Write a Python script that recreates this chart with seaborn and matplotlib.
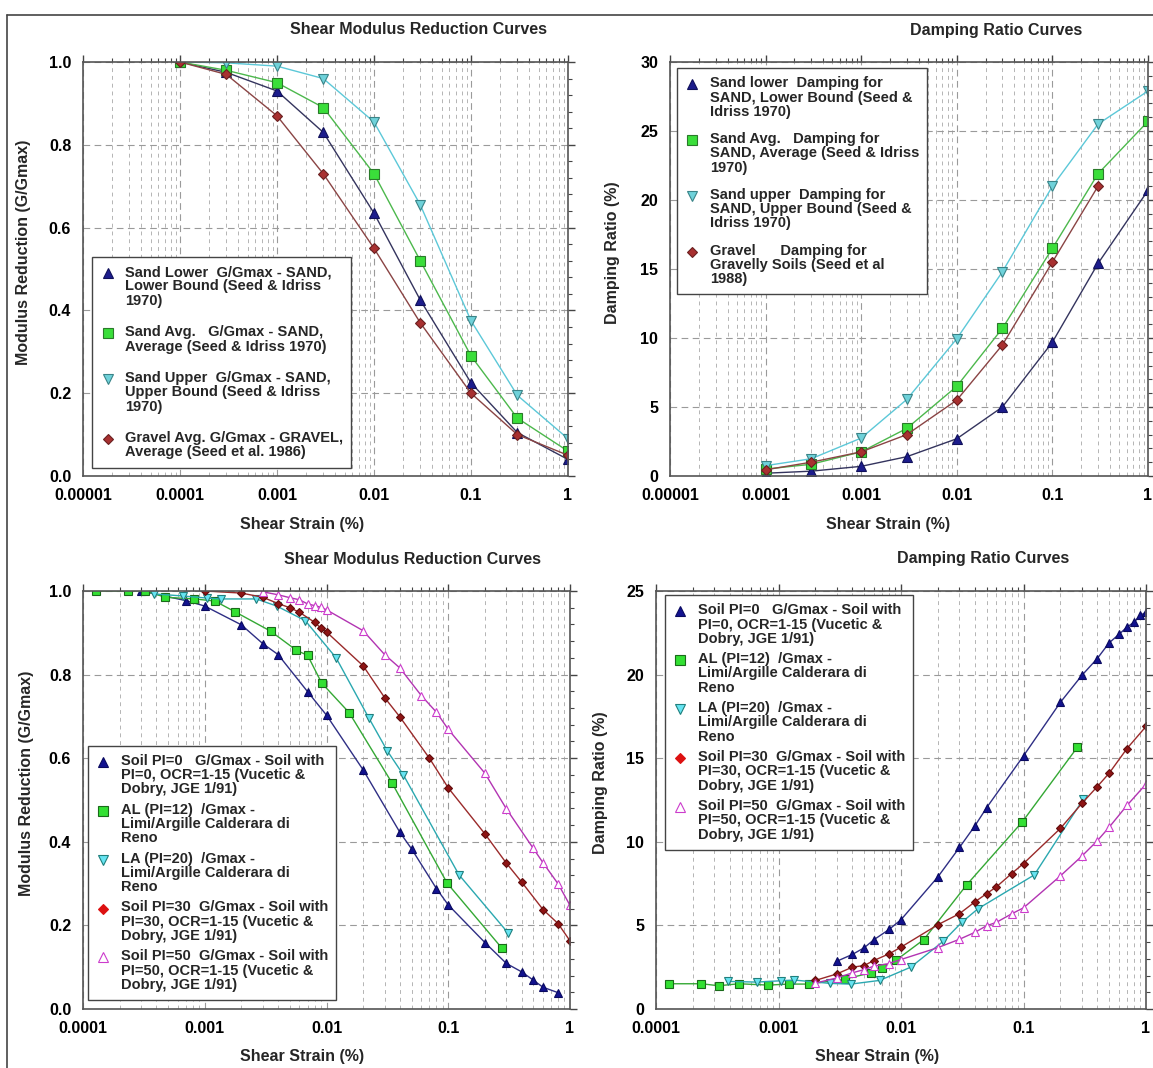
import seaborn as sns
import matplotlib.pyplot as plt
from matplotlib.lines import Line2D
from matplotlib.legend_handler import HandlerLine2D
from matplotlib.ticker import FixedLocator, FixedFormatter, MultipleLocator, LogLocator, NullFormatter, FormatStrFormatter

# ---- top row: Seed & Idriss sand / Seed et al. gravel ----
strain_top = [0.0001, 0.0003, 0.001, 0.003, 0.01, 0.03, 0.1, 0.3, 1.0]
gg_sand_lower = [1.0, 0.975, 0.93, 0.83, 0.635, 0.425, 0.225, 0.105, 0.04]
gg_sand_avg = [1.0, 0.98, 0.95, 0.89, 0.73, 0.52, 0.29, 0.14, 0.06]
gg_sand_upper = [1.0, 0.998, 0.99, 0.96, 0.855, 0.655, 0.375, 0.195, 0.09]
gg_gravel = [1.0, 0.97, 0.87, 0.73, 0.55, 0.37, 0.20, 0.10, 0.05]

d_sand_lower = [0.2, 0.35, 0.7, 1.4, 2.7, 5.0, 9.7, 15.4, 20.7]
d_sand_avg = [0.5, 0.85, 1.75, 3.45, 6.5, 10.7, 16.5, 21.9, 25.7]
d_sand_upper = [0.75, 1.25, 2.75, 5.55, 9.95, 14.8, 21.0, 25.5, 27.9]
strain_gravel_d = [0.0001, 0.0003, 0.001, 0.003, 0.01, 0.03, 0.1, 0.3]
d_gravel = [0.45, 1.0, 1.75, 3.0, 5.5, 9.5, 15.5, 21.0]

# ---- bottom row: Vucetic & Dobry + Calderara di Reno ----
strain_pi0_gg = [0.0003, 0.0007, 0.001, 0.002, 0.003, 0.004, 0.007, 0.01, 0.02, 0.04,
                 0.05, 0.08, 0.1, 0.2, 0.3, 0.4, 0.5, 0.6, 0.8]
gg_pi0 = [1.0, 0.977, 0.964, 0.919, 0.874, 0.848, 0.759, 0.703, 0.572, 0.423,
          0.383, 0.288, 0.249, 0.159, 0.109, 0.089, 0.069, 0.052, 0.039]
strain_pi0_d = [0.003, 0.004, 0.005, 0.006, 0.008, 0.01, 0.02, 0.03, 0.04, 0.05,
                0.1, 0.2, 0.3, 0.4, 0.5, 0.6, 0.7, 0.8, 0.9, 1.0]
d_pi0 = [2.86, 3.26, 3.66, 4.14, 4.76, 5.34, 7.9, 9.66, 10.94, 12.04,
         15.14, 18.34, 19.96, 20.96, 21.9, 22.4, 22.84, 23.14, 23.54, 23.74]

strain_al = [0.000128, 0.000235, 0.000325, 0.000475, 0.00082, 0.00121, 0.00178, 0.00347,
             0.00567, 0.0070, 0.00912, 0.01535, 0.0345, 0.098, 0.275]
gg_al = [1.0, 1.0, 1.0, 0.985, 0.981, 0.976, 0.95, 0.904, 0.858, 0.846, 0.780, 0.709,
         0.541, 0.301, 0.146]
d_al = [1.51, 1.51, 1.39, 1.51, 1.43, 1.49, 1.49, 1.79, 2.16, 2.46, 2.92, 4.15,
        7.44, 11.2, 15.65]

strain_la = [0.000385, 0.000666, 0.00105, 0.00135, 0.00265, 0.0039, 0.0067, 0.012,
             0.0222, 0.0315, 0.0426, 0.1225, 0.308]
gg_la = [0.993, 0.988, 0.983, 0.981, 0.981, 0.964, 0.929, 0.840, 0.697, 0.618, 0.561,
         0.321, 0.183]
d_la = [1.65, 1.61, 1.69, 1.73, 1.53, 1.49, 1.71, 2.5, 4.06, 5.2, 6.0, 8.02, 12.56]

strain_pi30_gg = [0.001, 0.002, 0.003, 0.004, 0.005, 0.006, 0.008, 0.009, 0.01, 0.02,
                  0.03, 0.04, 0.07, 0.1, 0.2, 0.3, 0.4, 0.6, 0.8, 1.0]
gg_pi30 = [1.0, 0.995, 0.985, 0.97, 0.96, 0.949, 0.925, 0.911, 0.902, 0.821,
           0.745, 0.699, 0.60, 0.529, 0.419, 0.349, 0.304, 0.238, 0.204, 0.163]
strain_pi30_d = [0.002, 0.003, 0.004, 0.005, 0.006, 0.008, 0.01, 0.02, 0.03, 0.04,
                 0.05, 0.06, 0.08, 0.1, 0.2, 0.3, 0.4, 0.5, 0.7, 1.0]
d_pi30 = [1.71, 2.1, 2.5, 2.6, 2.9, 3.3, 3.7, 5.04, 5.7, 6.4,
          6.9, 7.3, 8.1, 8.7, 10.8, 12.3, 13.3, 14.1, 15.58, 16.9]

strain_pi50_gg = [0.003, 0.004, 0.005, 0.006, 0.007, 0.008, 0.009, 0.01, 0.02, 0.03,
                  0.04, 0.06, 0.08, 0.1, 0.2, 0.3, 0.5, 0.6, 0.8, 1.0]
gg_pi50 = [0.998, 0.991, 0.984, 0.979, 0.969, 0.965, 0.961, 0.955, 0.905, 0.848,
           0.816, 0.75, 0.71, 0.669, 0.564, 0.479, 0.384, 0.35, 0.299, 0.248]
strain_pi50_d = [0.002, 0.003, 0.004, 0.005, 0.006, 0.008, 0.01, 0.02, 0.03, 0.04,
                 0.05, 0.06, 0.08, 0.1, 0.2, 0.3, 0.4, 0.5, 0.7, 1.0]
d_pi50 = [1.55, 1.86, 2.16, 2.36, 2.56, 2.72, 2.96, 3.67, 4.17, 4.58,
          4.98, 5.18, 5.69, 6.05, 7.96, 9.15, 10.06, 10.87, 12.18, 13.45]

xticks_top = [0.00001, 0.0001, 0.001, 0.01, 0.1, 1]
xlabels_top = ["0.00001", "0.0001", "0.001", "0.01", "0.1", "1"]
xticks_bot = [0.0001, 0.001, 0.01, 0.1, 1]
xlabels_bot = ["0.0001", "0.001", "0.01", "0.1", "1"]

labels_gg_top = ["Sand Lower  G/Gmax - SAND,\nLower Bound (Seed & Idriss\n1970)",
                 "Sand Avg.   G/Gmax - SAND,\nAverage (Seed & Idriss 1970)",
                 "Sand Upper  G/Gmax - SAND,\nUpper Bound (Seed & Idriss\n1970)",
                 "Gravel Avg. G/Gmax - GRAVEL,\nAverage (Seed et al. 1986)"]
labels_d_top = ["Sand lower  Damping for\nSAND, Lower Bound (Seed &\nIdriss 1970)",
                "Sand Avg.   Damping for\nSAND, Average (Seed & Idriss\n1970)",
                "Sand upper  Damping for\nSAND, Upper Bound (Seed &\nIdriss 1970)",
                "Gravel      Damping for\nGravelly Soils (Seed et al\n1988)"]
labels_bot = ["Soil PI=0   G/Gmax - Soil with\nPI=0, OCR=1-15 (Vucetic &\nDobry, JGE 1/91)",
              "AL (PI=12)  /Gmax -\nLimi/Argille Calderara di\nReno",
              "LA (PI=20)  /Gmax -\nLimi/Argille Calderara di\nReno",
              "Soil PI=30  G/Gmax - Soil with\nPI=30, OCR=1-15 (Vucetic &\nDobry, JGE 1/91)",
              "Soil PI=50  G/Gmax - Soil with\nPI=50, OCR=1-15 (Vucetic &\nDobry, JGE 1/91)"]

# marker / line styles
s_lower = dict(marker='^', face='#1c1c8c', edge='#10105a', line='#34345e')
s_avg = dict(marker='s', face='#3ade3a', edge='#2a7a2a', line='#4cb84c')
s_upper = dict(marker='v', face='#6fd2da', edge='#3a8488', line='#5cc8d8')
s_gravel = dict(marker='D', face='#a83030', edge='#6a2020', line='#8a4444')
s_pi0 = dict(marker='^', face='#12128f', edge='#0a0a60', line='#2e2e84')
s_al = dict(marker='s', face='#33e033', edge='#1a6a1a', line='#34a834')
s_la = dict(marker='v', face='#66e4f2', edge='#20807e', line='#2aa8b0')
s_pi30 = dict(marker='D', face='#8e1414', edge='#600c0c', line='#9a2a2a', leg='#dd1111')
s_pi50 = dict(marker='^', face='white', edge='#cc3ccc', line='#b234b2')

sns.set_style("white")
plt.rcParams['font.family'] = ['Liberation Sans', 'DejaVu Sans']
plt.rcParams['font.weight'] = 'bold'
plt.rcParams['axes.labelweight'] = 'bold'

W, H = 1153, 1068
LEG_FS = 10.5
LEG_LS = 1.03
fig = plt.figure(figsize=(W / 100, H / 100), dpi=100)


class FirstLineHandler(HandlerLine2D):
    """put the legend marker beside the first line of a multi-line label"""
    def __init__(self, shift, **kw):
        super().__init__(**kw)
        self.shift = shift

    def create_artists(self, legend, orig_handle, xdescent, ydescent, width, height, fontsize, trans):
        arts = super().create_artists(legend, orig_handle, xdescent, ydescent, width, height,
                                      fontsize, trans)
        for a in arts:
            a.set_ydata([y + self.shift for y in a.get_ydata()])
        return arts


def rect(x0, y0, x1, y1):
    return [x0 / W, 1 - y1 / H, (x1 - x0) / W, (y1 - y0) / H]


def draw(ax, xs, ys, st, ms=6.5):
    sns.lineplot(x=xs, y=ys, ax=ax, color=st['line'], marker=st['marker'],
                 markersize=ms if st['marker'] != 'D' else ms - 1.5,
                 markerfacecolor=st['face'], markeredgecolor=st['edge'],
                 markeredgewidth=0.8, linewidth=1.0, sort=False, estimator=None)


def setup(ax, xticks, xlabels, ylim, ymaj, ymin, yfmt):
    ax.set_xscale('log')
    ax.set_xlim(xticks[0], xticks[-1])
    ax.set_ylim(*ylim)
    ax.xaxis.set_major_locator(FixedLocator(xticks))
    ax.xaxis.set_major_formatter(FixedFormatter(xlabels))
    ax.xaxis.set_minor_locator(LogLocator(base=10, subs=range(2, 10), numticks=20))
    ax.xaxis.set_minor_formatter(NullFormatter())
    ax.yaxis.set_major_locator(MultipleLocator(ymaj))
    ax.yaxis.set_minor_locator(MultipleLocator(ymin))
    ax.yaxis.set_major_formatter(FormatStrFormatter(yfmt))
    ax.grid(which='major', axis='both', color='#9a9a9a', linestyle=(0, (6, 4)), linewidth=0.8)
    ax.grid(which='minor', axis='x', color='#b4b4b4', linestyle=(0, (4, 4)), linewidth=0.7)
    ax.tick_params(which='both', direction='out', top=True, right=True, colors='#444444',
                   labelcolor='black', labelsize=11.5)
    ax.tick_params(which='major', length=5, width=1)
    ax.tick_params(which='minor', length=3, width=0.8)
    for sp in ax.spines.values():
        sp.set_color('#555555')
        sp.set_linewidth(1.2)
    ax.set_xlabel('')
    ax.set_ylabel('')


def legend(ax, styles, labels, anchor, spacing):
    handles = [Line2D([], [], linestyle='none', marker=st['marker'],
                      markersize=7 if st['marker'] != 'D' else 5.5,
                      markerfacecolor=st.get('leg', st['face']),
                      markeredgecolor=st.get('leg', st['edge']),
                      markeredgewidth=0.8) for st in styles]
    pitch = 0.91 * LEG_FS * LEG_LS
    hmap = {h: FirstLineHandler((lab.count('\n')) / 2 * pitch) for h, lab in zip(handles, labels)}
    lg = ax.legend(handles, labels, loc='upper left', bbox_to_anchor=anchor, handler_map=hmap,
                   frameon=True, fancybox=False, framealpha=1, edgecolor='#444444',
                   fontsize=LEG_FS, handlelength=1.0, handletextpad=0.7, labelspacing=spacing,
                   borderpad=0.55, borderaxespad=0)
    lg.get_frame().set_linewidth(1.0)
    for t in lg.get_texts():
        t.set_linespacing(LEG_LS)
    return lg


ax1 = fig.add_axes(rect(83, 62, 568, 476))
ax2 = fig.add_axes(rect(670, 62, 1148, 476))
ax3 = fig.add_axes(rect(83, 591, 570, 1009))
ax4 = fig.add_axes(rect(656, 591, 1146, 1009))

# top-left: modulus reduction
draw(ax1, strain_top, gg_sand_lower, s_lower)
draw(ax1, strain_top, gg_sand_avg, s_avg)
draw(ax1, strain_top, gg_sand_upper, s_upper)
draw(ax1, strain_top, gg_gravel, s_gravel)
setup(ax1, xticks_top, xlabels_top, (0, 1.0), 0.2, 0.04, '%.1f')
legend(ax1, [s_lower, s_avg, s_upper, s_gravel], labels_gg_top, (0.019, 0.529), 1.2)

# top-right: damping
draw(ax2, strain_top, d_sand_lower, s_lower)
draw(ax2, strain_top, d_sand_avg, s_avg)
draw(ax2, strain_top, d_sand_upper, s_upper)
draw(ax2, strain_gravel_d, d_gravel, s_gravel)
setup(ax2, xticks_top, xlabels_top, (0, 30), 5, 1, '%d')
legend(ax2, [s_lower, s_avg, s_upper, s_gravel], labels_d_top, (0.015, 0.985), 0.9)

# bottom-left: modulus reduction
draw(ax3, strain_pi0_gg, gg_pi0, s_pi0, 6)
draw(ax3, strain_al, gg_al, s_al, 6)
draw(ax3, strain_la, gg_la, s_la, 6)
draw(ax3, strain_pi30_gg, gg_pi30, s_pi30, 6)
draw(ax3, strain_pi50_gg, gg_pi50, s_pi50, 6)
setup(ax3, xticks_bot, xlabels_bot, (0, 1.0), 0.2, 0.04, '%.1f')
legend(ax3, [s_pi0, s_al, s_la, s_pi30, s_pi50], labels_bot, (0.010, 0.630), 0.43)

# bottom-right: damping
draw(ax4, strain_pi0_d, d_pi0, s_pi0, 6)
draw(ax4, strain_al, d_al, s_al, 6)
draw(ax4, strain_la, d_la, s_la, 6)
draw(ax4, strain_pi30_d, d_pi30, s_pi30, 6)
draw(ax4, strain_pi50_d, d_pi50, s_pi50, 6)
setup(ax4, xticks_bot, xlabels_bot, (0, 25), 5, 1, '%d')
legend(ax4, [s_pi0, s_al, s_la, s_pi30, s_pi50], labels_bot, (0.018, 0.99), 0.43)

# titles and axis labels
txt = dict(fontsize=11.5, fontweight='bold', ha='center', va='center')
fig.text(418 / W, 1 - 30 / H, "Shear Modulus Reduction Curves", **txt)
fig.text(996 / W, 1 - 30 / H, "Damping Ratio Curves", **txt)
fig.text(413 / W, 1 - 559 / H, "Shear Modulus Reduction Curves", **txt)
fig.text(983 / W, 1 - 559 / H, "Damping Ratio Curves", **txt)
fig.text(302 / W, 1 - 525 / H, "Shear Strain (%)", **txt)
fig.text(888 / W, 1 - 525 / H, "Shear Strain (%)", **txt)
fig.text(302 / W, 1 - 1057 / H, "Shear Strain (%)", **txt)
fig.text(877 / W, 1 - 1057 / H, "Shear Strain (%)", **txt)
fig.text(24 / W, 1 - 252 / H, "Modulus Reduction (G/Gmax)", rotation=90, **txt)
fig.text(612 / W, 1 - 253 / H, "Damping Ratio (%)", rotation=90, **txt)
fig.text(27 / W, 1 - 783 / H, "Modulus Reduction (G/Gmax)", rotation=90, **txt)
fig.text(600 / W, 1 - 783 / H, "Damping Ratio (%)", rotation=90, **txt)

# outer frame of the screenshot
fig.add_artist(Line2D([7 / W, 1], [1 - 15 / H, 1 - 15 / H], color='#444444', linewidth=1.2))
fig.add_artist(Line2D([7 / W, 7 / W], [0, 1 - 15 / H], color='#444444', linewidth=1.2))

fig.savefig("out.png", dpi=100)
